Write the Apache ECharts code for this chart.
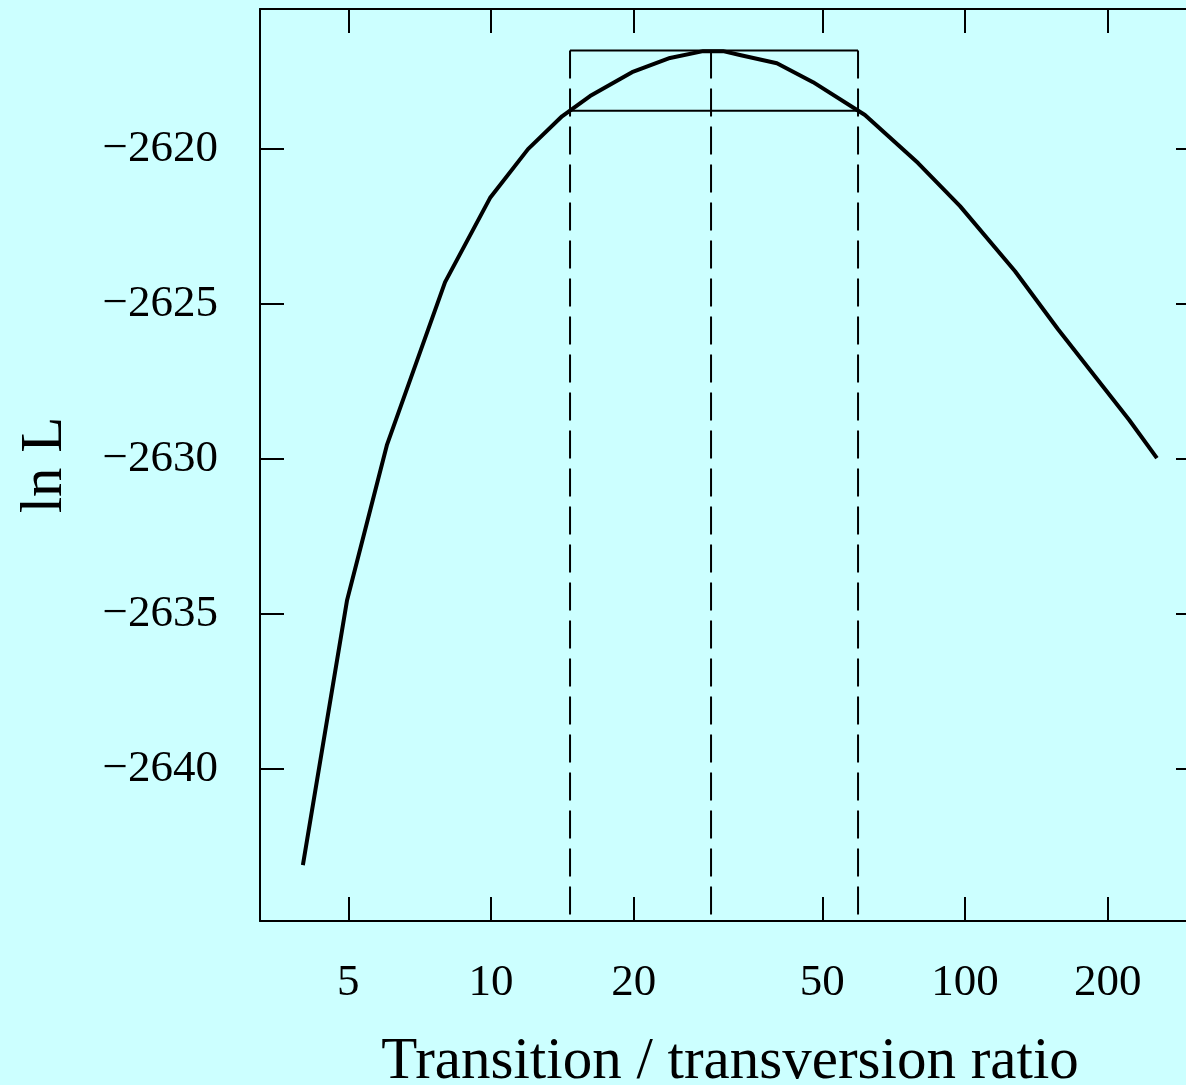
<!DOCTYPE html>
<html>
<head>
<meta charset="utf-8">
<script src="https://cdn.jsdelivr.net/npm/echarts@6/dist/echarts.min.js"></script>
<style>
html,body{margin:0;padding:0;background:#ccffff;}
#c{width:1186px;height:1085px;}
</style>
</head>
<body>
<div id="c"></div>
<script>
// Transition / transversion ratio (x) and log-likelihood (y)
var ratio = [4.01, 4.97, 6.03, 8.0, 9.95, 11.97, 14.12, 16.18, 19.84, 23.86, 28.02, 30.87, 33.67, 40.1, 47.8, 61.5, 79.6, 97.6, 127.5, 157.1, 222, 254];
var lnL = [-2643.10, -2634.55, -2629.55, -2624.29, -2621.58, -2620.0, -2618.94, -2618.29, -2617.52, -2617.06, -2616.84, -2616.84, -2616.97, -2617.23, -2617.84, -2618.90, -2620.45, -2621.84, -2623.94, -2625.81, -2628.74, -2629.97];
var xTicks = [5, 10, 20, 50, 100, 200];
var yTicks = [-2640, -2635, -2630, -2625, -2620];
var ciLow = 14.68, mle = 29.12, ciHigh = 59.47;
var maxLnL = -2616.82, cutLnL = -2618.76;
var xMin = 3.256, xMax = 313.1;
var yMin = -2644.9, yMax = -2615.48;

var font = 'Liberation Serif';
var chart = echarts.init(document.getElementById('c'));
var data = ratio.map(function (r, i) { return [r, lnL[i]]; });

function xAxisCfg(pos, labels) {
  return {
    type: 'log', logBase: 10, position: pos, min: xMin, max: xMax,
    axisLine: { show: true, onZero: false, lineStyle: { color: '#000', width: 2 } },
    axisTick: { show: true, inside: true, length: 24, customValues: xTicks, lineStyle: { color: '#000', width: 2 } },
    axisLabel: { show: labels, customValues: xTicks, margin: 40, fontFamily: font, fontSize: 45, color: '#000', formatter: function (v) { return String(Math.round(v)); } },
    splitLine: { show: false }, minorTick: { show: false },
    name: labels ? 'Transition / transversion ratio' : '',
    nameLocation: 'middle', nameGap: 112,
    nameTextStyle: { fontFamily: font, fontSize: 59, color: '#000' }
  };
}
function yAxisCfg(pos, labels) {
  return {
    type: 'value', position: pos, min: yMin, max: yMax,
    axisLine: { show: true, onZero: false, lineStyle: { color: '#000', width: 2 } },
    axisTick: { show: true, inside: true, length: 24, customValues: yTicks, lineStyle: { color: '#000', width: 2 } },
    axisLabel: { show: labels, customValues: yTicks, margin: 42, fontFamily: font, fontSize: 45, color: '#000', formatter: function (v) { return '\u2212' + Math.abs(Math.round(v)); } },
    splitLine: { show: false },
    name: labels ? 'ln L' : '',
    nameLocation: 'middle', nameGap: 185,
    nameTextStyle: { fontFamily: font, fontSize: 59, color: '#000' }
  };
}
function seg(pts, dashed, w) {
  return {
    type: 'line', xAxisIndex: 0, yAxisIndex: 0, data: pts, symbol: 'none', silent: true,
    lineStyle: { color: '#000', width: w, type: dashed ? [28, 10] : 'solid' }
  };
}

chart.setOption({
  backgroundColor: '#ccffff',
  animation: false,
  grid: { left: 260, top: 9, width: 940, height: 912, containLabel: false, outerBoundsMode: 'none' },
  xAxis: [xAxisCfg('bottom', true), xAxisCfg('top', false)],
  yAxis: [yAxisCfg('left', true), yAxisCfg('right', false)],
  series: [
    seg([[ciLow, maxLnL], [ciLow, yMin]], true, 2),
    seg([[mle, maxLnL], [mle, yMin]], true, 2),
    seg([[ciHigh, maxLnL], [ciHigh, yMin]], true, 2),
    seg([[ciLow, maxLnL], [ciHigh, maxLnL]], false, 2),
    seg([[ciLow, cutLnL], [ciHigh, cutLnL]], false, 2),
    { type: 'line', data: data, symbol: 'none', silent: true, lineStyle: { color: '#000', width: 4 } }
  ]
});
</script>
</body>
</html>
